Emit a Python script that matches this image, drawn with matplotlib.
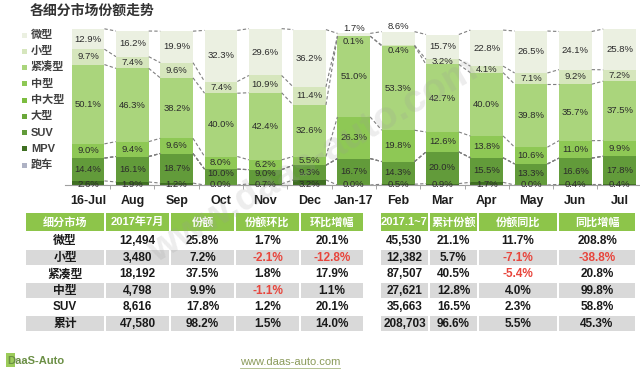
import numpy as np
import matplotlib.pyplot as plt
from matplotlib.patches import Rectangle

plt.rcParams['font.family'] = ['Liberation Sans', 'Noto Sans CJK SC', 'DejaVu Sans']

#%% data -----------------------------------------------------------------
months = ['16-Jul', 'Aug', 'Sep', 'Oct', 'Nov', 'Dec', 'Jan-17',
          'Feb', 'Mar', 'Apr', 'May', 'Jun', 'Jul']
segments = ['微型', '小型', '紧凑型', '中型', '中大型', '大型', 'SUV', 'MPV', '跑车']

# share of each segment, %  (stack goes bottom -> top in reverse legend order)
weixing    = [12.9, 16.2, 19.9, 32.3, 29.6, 36.2, 1.7, 8.6, 15.7, 22.8, 26.5, 24.1, 25.8]
xiaoxing   = [9.7, 7.4, 9.6, 7.4, 10.9, 11.4, 0.1, 0.4, 3.2, 4.1, 7.1, 9.2, 7.2]
jincouxing = [50.1, 46.3, 38.2, 40.0, 42.4, 32.6, 51.0, 53.3, 42.7, 40.0, 39.8, 35.7, 37.5]
zhongxing  = [9.0, 9.4, 9.6, 8.0, 6.2, 5.5, 26.3, 19.8, 12.6, 13.8, 10.6, 11.0, 9.9]
zhongdaxing = [0.0, 0.0, 0.0, 0.0, 0.0, 0.0, 0.0, 0.0, 0.0, 0.0, 0.0, 0.0, 0.0]
daxing     = [0.0, 0.0, 0.0, 0.0, 0.0, 0.0, 0.0, 0.0, 0.0, 0.0, 0.0, 0.0, 0.0]
suv        = [14.4, 16.1, 18.7, 10.0, 9.0, 9.3, 16.7, 14.3, 20.0, 15.5, 13.3, 16.6, 17.8]
mpv        = [2.6, 1.9, 1.2, 0.0, 0.7, 3.2, 0.0, 0.5, 0.9, 1.7, 0.0, 0.4, 0.4]
paoche     = [0.0, 0.0, 0.0, 0.0, 0.0, 0.0, 0.0, 0.0, 0.0, 0.0, 0.0, 0.0, 0.0]

colors = ['#ebf0e1', '#d6e6bd', '#aad57c', '#8ec855', '#7cbd3f',
          '#6aa83a', '#629b3a', '#3f6f22', '#aeb2c4']

# table
tbl_rows   = ['微型', '小型', '紧凑型', '中型', 'SUV', '累计']
left_head  = ['细分市场', '2017年7月', '份额', '份额环比', '环比增幅']
right_head = ['2017.1~7', '累计份额', '份额同比', '同比增幅']
jul_vol    = [12494, 3480, 18192, 4798, 8616, 47580]
jul_share  = [25.8, 7.2, 37.5, 9.9, 17.8, 98.2]
share_mom  = [1.7, -2.1, 1.8, -1.1, 1.2, 1.5]
mom_growth = [20.1, -12.8, 17.9, 1.1, 20.1, 14.0]
ytd_vol    = [45530, 12382, 87507, 27621, 35663, 208703]
ytd_share  = [21.1, 5.7, 40.5, 12.8, 16.5, 96.6]
share_yoy  = [11.7, -7.1, -5.4, 4.0, 2.3, 5.5]
yoy_growth = [208.8, -38.8, 20.8, 99.8, 58.8, 45.3]

#%% figure ---------------------------------------------------------------
W, H = 640, 373
fig = plt.figure(figsize=(6.4, 3.73), dpi=100)

# pixel-space overlay for title, legend, table, footer
pa = fig.add_axes([0, 0, 1, 1])
pa.set_xlim(0, W)
pa.set_ylim(H, 0)
pa.axis('off')

ax = fig.add_axes([65 / W, 1 - 185 / H, (640 - 65) / W, (185 - 22) / H])
ax.set_zorder(2)

series = [weixing, xiaoxing, jincouxing, zhongxing, zhongdaxing,
          daxing, suv, mpv, paoche]
x = np.arange(len(months))
bw = 0.74
bottom = np.zeros(len(months))
cum = []      # boundaries, bottom to top
for k in range(len(series) - 1, -1, -1):
    v = np.array(series[k])
    ax.bar(x, v, bw, bottom=bottom, color=colors[k], edgecolor='none', zorder=2)
    bottom = bottom + v
    cum.append(bottom.copy())
total = bottom

# series lines (dashed) between neighbouring bars
for c in cum:
    for i in range(len(months) - 1):
        ax.plot([i + bw / 2, i + 1 - bw / 2], [c[i], c[i + 1]],
                ls=(0, (3, 2)), color='#7f7f7f', lw=0.8, zorder=3)

# value labels
lab_kw = dict(ha='center', fontsize=6.8, color='#2b2b2b', zorder=4)
for i in range(len(months)):
    b_mpv = mpv[i]
    b_suv = b_mpv + suv[i]
    b_zx = b_suv + zhongxing[i]
    b_jc = b_zx + jincouxing[i]
    b_xx = b_jc + xiaoxing[i]
    ax.text(i, 0.2, f'{mpv[i]:.1f}%', va='center', **lab_kw)
    ax.text(i, max(b_mpv + suv[i] / 2, 7.0), f'{suv[i]:.1f}%', va='center', **lab_kw)
    ax.text(i, b_suv + zhongxing[i] / 2, f'{zhongxing[i]:.1f}%', va='center', **lab_kw)
    ax.text(i, b_zx + jincouxing[i] / 2, f'{jincouxing[i]:.1f}%', va='center', **lab_kw)
    if xiaoxing[i] < 1:
        ax.text(i, b_xx - 0.5, f'{xiaoxing[i]:.1f}%', va='top', **lab_kw)
    else:
        ax.text(i, b_jc + xiaoxing[i] / 2, f'{xiaoxing[i]:.1f}%', va='center', **lab_kw)
    if weixing[i] < 10:
        ax.text(i, total[i] + 0.3, f'{weixing[i]:.1f}%', va='bottom', **lab_kw)
    else:
        ax.text(i, b_xx + weixing[i] / 2, f'{weixing[i]:.1f}%', va='center', **lab_kw)

ax.set_xlim(-0.52, len(months) - 0.54)
ax.set_ylim(0, 103)
ax.set_xticks(x)
ax.set_xticklabels(months, fontsize=9, fontweight='bold', color='#1e1e1e')
ax.set_xticks(np.arange(len(months) - 1) + 0.5, minor=True)
ax.tick_params(axis='x', which='major', length=0, pad=7)
ax.tick_params(axis='x', which='minor', length=3, color='#999999')
ax.set_yticks([])
for s in ['top', 'right', 'left']:
    ax.spines[s].set_visible(False)
ax.spines['bottom'].set_color('#a0a0a0')
ax.spines['bottom'].set_linewidth(0.8)
ax.patch.set_alpha(0)

# title
pa.text(30, 11, '各细分市场份额走势', fontsize=10, fontweight='bold',
        color='#333333', va='center', ha='left')

# legend
for j, name in enumerate(segments):
    yy = 35 + 16.25 * j
    pa.add_patch(Rectangle((22, yy - 2.5), 5, 5, color=colors[j], lw=0))
    pa.text(31, yy, name, fontsize=8, fontweight='bold', color='#404040',
            va='center', ha='left')

#%% table ----------------------------------------------------------------
lx = [25, 105, 170, 235, 300, 364]
rx = [380, 429, 478, 558, 636]
row_top = 233
row_h = 16.5
green = '#8dc54a'
grey = '#d9d9d9'
red = '#e8453c'


def pct(v):
    return f'{v:.1f}%'


def cell(x0, x1, y0, y1, fc):
    pa.add_patch(Rectangle((x0 + 1, y0 + 0.7), x1 - x0 - 2, y1 - y0 - 1.4,
                           color=fc, lw=0))


def put(xc, yc, s, col='#1a1a1a', size=8.5):
    pa.text(xc, yc, s, fontsize=size, fontweight='bold', color=col,
            ha='center', va='center')


# headers
for bounds, heads in [(lx, left_head), (rx, right_head)]:
    for c, h in enumerate(heads):
        cell(bounds[c], bounds[c + 1], 212, 232, green)
        put((bounds[c] + bounds[c + 1]) / 2, 222, h, col='white', size=8)

left_cols = [tbl_rows, [f'{v:,}' for v in jul_vol], [pct(v) for v in jul_share],
             [pct(v) for v in share_mom], [pct(v) for v in mom_growth]]
left_raw = [None, None, None, share_mom, mom_growth]
right_cols = [[f'{v:,}' for v in ytd_vol], [pct(v) for v in ytd_share],
              [pct(v) for v in share_yoy], [pct(v) for v in yoy_growth]]
right_raw = [None, None, share_yoy, yoy_growth]

for r in range(len(tbl_rows)):
    y0 = row_top + r * row_h
    y1 = y0 + row_h
    yc = (y0 + y1) / 2
    for bounds, cols, raw in [(lx, left_cols, left_raw), (rx, right_cols, right_raw)]:
        for c in range(len(cols)):
            if r % 2 == 1:
                cell(bounds[c], bounds[c + 1], y0, y1, grey)
            neg = raw[c] is not None and raw[c][r] < 0
            put((bounds[c] + bounds[c + 1]) / 2, yc, cols[c][r],
                col=red if neg else '#1a1a1a')

#%% footer & watermark ----------------------------------------------------
pa.add_patch(Rectangle((6, 353), 9, 14, color='#9ccc5a', lw=0))
pa.text(7, 361, 'DaaS-Auto', fontsize=8, fontweight='bold', color='#6b8f45',
        ha='left', va='center')
pa.text(290, 362, 'www.daas-auto.com', fontsize=8, color='#8a9a5a',
        ha='center', va='center')
pa.plot([240, 340], [368, 368], color='#a8b880', lw=0.6)

fig.text(0.49, 0.57, 'www.daas-auto.com', rotation=30, fontsize=28,
         color='#9a9a9a', alpha=0.18, ha='center', va='center',
         fontweight='bold', zorder=10)

fig.savefig('out.png', dpi=100)
